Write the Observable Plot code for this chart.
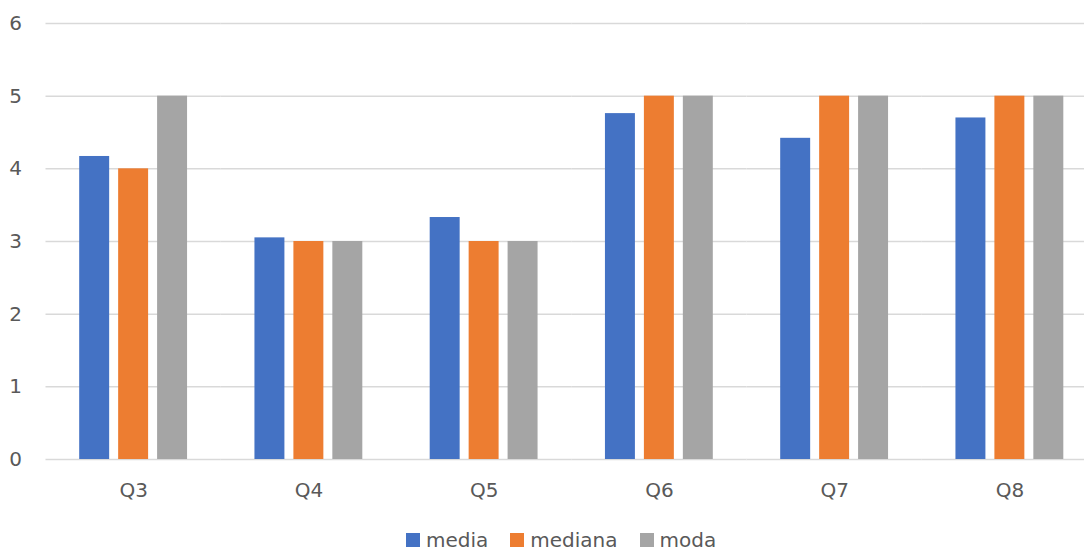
<!DOCTYPE html>
<html>
<head>
<meta charset="utf-8">
<script src="https://cdn.jsdelivr.net/npm/d3@7"></script>
<script src="https://cdn.jsdelivr.net/npm/@observablehq/plot@0.6"></script>
<style>
  html, body { margin: 0; padding: 0; background: #fff; overflow: hidden; }
  #chart { position: relative; width: 1084px; height: 551px; overflow: hidden; }
  #chart svg { max-width: none !important; display: block; }
  #legend {
    position: absolute; top: 529px; left: 406px;
    font-family: "DejaVu Sans", sans-serif; font-size: 20px; line-height: 22px;
    color: #595959; white-space: nowrap;
  }
  #legend .item { display: inline-block; margin-right: 22px; }
  #legend .sw { display: inline-block; width: 14px; height: 14px; margin-right: 6px; vertical-align: baseline; }
</style>
</head>
<body>
<div id="chart"></div>
<script>
// Questions along the x axis
const categories = ["Q3", "Q4", "Q5", "Q6", "Q7", "Q8"];
// Summary statistics per question
const series = ["media", "mediana", "moda"];
const media   = [4.17, 3.05, 3.33, 4.76, 4.42, 4.70];
const mediana = [4, 3, 3, 5, 5, 5];
const moda    = [5, 3, 3, 5, 5, 5];
const colors  = ["#4472C4", "#ED7D31", "#A5A5A5"];
const yTicks  = [0, 1, 2, 3, 4, 5, 6];

const valuesBySeries = {media, mediana, moda};
const rows = categories.flatMap((cat, i) =>
  series.map(s => ({cat, series: s, value: valuesBySeries[s][i]}))
);

const chart = Plot.plot({
  width: 1097,
  height: 522,
  marginLeft: 45.5,
  marginRight: 0,
  marginTop: 23,
  marginBottom: 63,
  style: {fontFamily: "DejaVu Sans, sans-serif", fontSize: "20px", color: "#595959", background: "#fff", maxWidth: "none"},
  fx: {domain: categories, padding: 0, round: false, label: null, axis: "bottom", tickSize: 0, tickPadding: 23},
  x: {domain: series, paddingInner: 9 / 39, paddingOuter: 0.865, round: false, axis: null},
  y: {domain: [0, 6], label: null, axis: null},
  color: {domain: series, range: colors},
  marks: [
    Plot.ruleY(yTicks, {stroke: "#d9d9d9", strokeWidth: 1.5}),
    Plot.barY(rows, {fx: "cat", x: "series", y: "value", fill: "series"}),
    Plot.axisY({ticks: yTicks, tickSize: 0, tickPadding: 24, tickFormat: d3.format("d"), label: null, fontSize: 20, fill: "#595959"})
  ]
});

const wrap = document.getElementById("chart");
wrap.appendChild(chart);

// Legend row beneath the plot
const legend = document.createElement("div");
legend.id = "legend";
series.forEach((s, i) => {
  const item = document.createElement("span");
  item.className = "item";
  const sw = document.createElement("span");
  sw.className = "sw";
  sw.style.background = colors[i];
  item.appendChild(sw);
  item.appendChild(document.createTextNode(s));
  legend.appendChild(item);
});
wrap.appendChild(legend);
</script>
</body>
</html>
